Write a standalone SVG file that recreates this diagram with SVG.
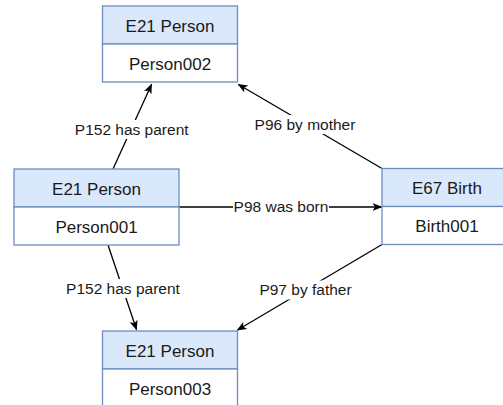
<svg xmlns="http://www.w3.org/2000/svg" width="503" height="405" viewBox="0 0 503 405">
  <style>
    .hdr { fill: #dae8fc; stroke: #6c8ebf; stroke-width: 1.3; }
    .bdy { fill: #ffffff; stroke: #6c8ebf; stroke-width: 1.3; }
    .nt { font-family: "Liberation Sans", Arial, sans-serif; font-size: 17px; fill: #1a1a1a; text-anchor: middle; }
    .edge { stroke: #000000; stroke-width: 1.3; fill: none; marker-end: url(#arr); }
    .lbg { fill: #ffffff; }
    .lt { font-family: "Liberation Sans", Arial, sans-serif; font-size: 15.5px; fill: #1a1a1a; text-anchor: middle; }
  </style>
  <defs>
    <marker id="arr" viewBox="0 0 10 8" refX="9" refY="4" markerWidth="10" markerHeight="8" markerUnits="userSpaceOnUse" orient="auto">
      <path d="M0,0 L10,4 L0,8 L2.5,4 Z" fill="#000000"/>
    </marker>
  </defs>
  <rect width="503" height="405" fill="#ffffff"/>

  <g id="connectors">
    <line class="edge" x1="113" y1="169" x2="151.5" y2="84.5"/>
    <line class="edge" x1="382" y1="168.5" x2="238.5" y2="84.5"/>
    <line class="edge" x1="179" y1="207" x2="381.5" y2="207"/>
    <line class="edge" x1="108" y1="245" x2="136.5" y2="329.5"/>
    <line class="edge" x1="382" y1="244.5" x2="237.5" y2="330"/>

    <rect class="lbg" x="71.5" y="120" width="120.5" height="19"/>
    <text class="lt" x="131.7" y="134.8">P152 has parent</text>
    <rect class="lbg" x="254.5" y="115" width="101" height="19"/>
    <text class="lt" x="305" y="129.8">P96 by mother</text>
    <rect class="lbg" x="233" y="197.5" width="96" height="19"/>
    <text class="lt" x="281" y="212.3">P98 was born</text>
    <rect class="lbg" x="63" y="279" width="120.5" height="19"/>
    <text class="lt" x="123" y="293.8">P152 has parent</text>
    <rect class="lbg" x="257" y="280.5" width="97" height="19"/>
    <text class="lt" x="305.5" y="295.3">P97 by father</text>
  </g>

  <g id="person002">
    <rect class="hdr" x="102.5" y="6" width="135" height="38"/>
    <rect class="bdy" x="102.5" y="44" width="135" height="38"/>
    <text class="nt" x="170" y="32">E21 Person</text>
    <text class="nt" x="170" y="70">Person002</text>
  </g>

  <g id="person001">
    <rect class="hdr" x="14" y="169" width="165" height="38"/>
    <rect class="bdy" x="14" y="207" width="165" height="38"/>
    <text class="nt" x="96.5" y="194.5">E21 Person</text>
    <text class="nt" x="96.5" y="232.5">Person001</text>
  </g>

  <g id="birth001">
    <rect class="hdr" x="382" y="168.5" width="130" height="38"/>
    <rect class="bdy" x="382" y="206.5" width="130" height="38"/>
    <text class="nt" x="447" y="194">E67 Birth</text>
    <text class="nt" x="447" y="232">Birth001</text>
  </g>

  <g id="person003">
    <rect class="hdr" x="102.5" y="331" width="135" height="38"/>
    <rect class="bdy" x="102.5" y="369" width="135" height="38"/>
    <text class="nt" x="170" y="357">E21 Person</text>
    <text class="nt" x="170" y="395">Person003</text>
  </g>
</svg>
